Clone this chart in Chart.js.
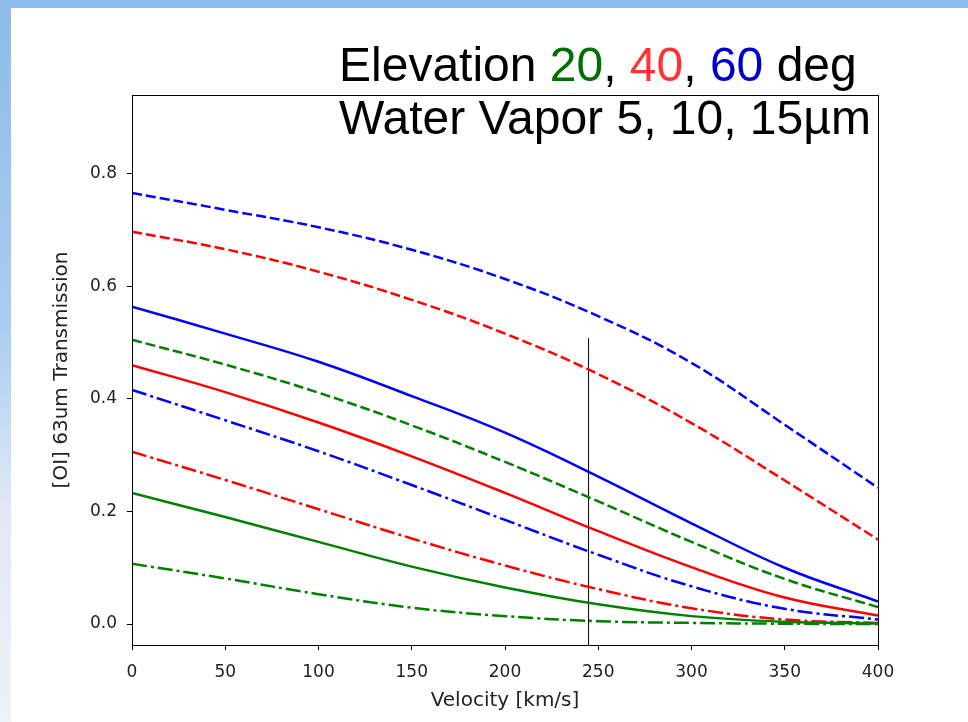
<!DOCTYPE html>
<html>
<head>
<meta charset="utf-8">
<script src="https://cdn.jsdelivr.net/npm/chart.js@4.4.0/dist/chart.umd.min.js"></script>
<style>
  html, body { margin: 0; padding: 0; }
  body {
    width: 968px; height: 722px; overflow: hidden; position: relative;
    background: linear-gradient(180deg, #8dbbe9 0%, #a9cdf2 45%, #dfe8f4 70%, #eef2f9 100%);
  }
  #slide { position: absolute; left: 11px; top: 8px; right: 0; bottom: 0; background: #fff; }
  #chartBox { position: absolute; left: 0; top: 0; width: 968px; height: 722px; }
  .head {
    position: absolute; left: 339px; font-family: "Liberation Sans", Arial, sans-serif;
    font-size: 48px; line-height: 48px; color: #000; white-space: nowrap;
  }
  .g { color: #006f00; } .r { color: #ff3333; } .b { color: #0000cc; }
</style>
</head>
<body>
<div id="slide"></div>
<div id="chartBox"><canvas id="lineChart" width="968" height="722"></canvas></div>
<div class="head" style="top:41px">Elevation <span class="g">20</span>, <span class="r">40</span>, <span class="b">60</span> deg</div>
<div class="head" style="top:94px">Water Vapor 5, 10, 15µm</div>
<script>
// Velocity grid [km/s]
const velocity = [0, 50, 100, 150, 200, 250, 300, 350, 400];

// Transmission, 5um water vapor (dashed)
const el20_wv5 = [0.505, 0.461, 0.411, 0.353, 0.288, 0.218, 0.146, 0.080, 0.030];
const el40_wv5 = [0.697, 0.666, 0.626, 0.576, 0.516, 0.444, 0.357, 0.255, 0.150];
const el60_wv5 = [0.766, 0.736, 0.705, 0.665, 0.613, 0.547, 0.464, 0.354, 0.242];

// 10um (solid)
const el20_wv10 = [0.233, 0.190, 0.146, 0.102, 0.065, 0.035, 0.014, 0.004, 0.001];
const el40_wv10 = [0.460, 0.412, 0.358, 0.298, 0.233, 0.165, 0.101, 0.047, 0.015];
const el60_wv10 = [0.564, 0.516, 0.466, 0.405, 0.340, 0.262, 0.179, 0.100, 0.040];

// 15um (dash-dot)
const el20_wv15 = [0.107, 0.081, 0.053, 0.029, 0.014, 0.005, 0.002, 0.0005, 0.0];
const el40_wv15 = [0.306, 0.256, 0.204, 0.152, 0.104, 0.062, 0.028, 0.008, 0.002];
const el60_wv15 = [0.416, 0.362, 0.307, 0.247, 0.185, 0.123, 0.067, 0.027, 0.008];

// marker line
const markerVelocity = 244.8;
const markerTop = 0.508;

const xTicks = [0, 50, 100, 150, 200, 250, 300, 350, 400];
const yTicks = [0.0, 0.2, 0.4, 0.6, 0.8];
const yMin = -0.0373, yMax = 0.94;

const green = '#008000', red = '#ff0000', blue = '#0000ff';
const dashed = [10, 4];
const dashDot = [15, 4, 3, 4];

function series(values, color, dash) {
  return {
    data: velocity.map((v, i) => ({ x: v, y: values[i] })),
    borderColor: color,
    borderWidth: 2.5,
    borderDash: dash,
    pointRadius: 0,
    fill: false,
    tension: 0.4
  };
}

// box round the plot area
const frame = {
  id: 'frame',
  afterDatasetsDraw(chart) {
    const a = chart.chartArea, ctx = chart.ctx;
    ctx.save();
    ctx.strokeStyle = '#000';
    ctx.lineWidth = 1;
    ctx.strokeRect(a.left + 0.5, a.top + 0.5, a.right - a.left, a.bottom - a.top);
    ctx.restore();
  }
};

const tickFont = { family: 'DejaVu Sans', size: 17 };
const titleFont = { family: 'DejaVu Sans', size: 20 };

new Chart(document.getElementById('lineChart').getContext('2d'), {
  type: 'line',
  data: {
    datasets: [
      series(el60_wv5, blue, dashed),
      series(el40_wv5, red, dashed),
      series(el20_wv5, green, dashed),
      series(el60_wv10, blue, []),
      series(el40_wv10, red, []),
      series(el20_wv10, green, []),
      series(el60_wv15, blue, dashDot),
      series(el40_wv15, red, dashDot),
      series(el20_wv15, green, dashDot),
      {
        data: [{ x: markerVelocity, y: yMin }, { x: markerVelocity, y: markerTop }],
        borderColor: '#000', borderWidth: 1, pointRadius: 0, fill: false
      }
    ]
  },
  options: {
    responsive: false,
    animation: false,
    layout: { padding: { left: 0, top: 95, right: 90, bottom: 0 } },
    plugins: { legend: { display: false }, tooltip: { enabled: false } },
    scales: {
      x: {
        type: 'linear', min: 0, max: 400,
        afterFit: s => { s.height = 77; },
        afterBuildTicks: s => { s.ticks = xTicks.map(v => ({ value: v })); },
        grid: { drawOnChartArea: false, drawTicks: true, tickLength: 5, color: '#000' },
        border: { display: true, color: '#000' },
        ticks: { color: '#222', font: tickFont, padding: 12, maxRotation: 0 },
        title: { display: true, text: 'Velocity [km/s]', color: '#222', font: titleFont, padding: { top: 0, bottom: 9 } }
      },
      y: {
        type: 'linear', min: yMin, max: yMax,
        afterFit: s => { s.width = 132; },
        afterBuildTicks: s => { s.ticks = yTicks.map(v => ({ value: v })); },
        grid: { drawOnChartArea: false, drawTicks: true, tickLength: 5, color: '#000' },
        border: { display: true, color: '#000' },
        ticks: { color: '#222', font: tickFont, padding: 10, callback: v => v.toFixed(1) },
        title: { display: true, text: '[OI] 63um Transmission', color: '#222', font: titleFont, padding: { top: 50, bottom: 0 } }
      }
    }
  },
  plugins: [frame]
});
</script>
</body>
</html>
